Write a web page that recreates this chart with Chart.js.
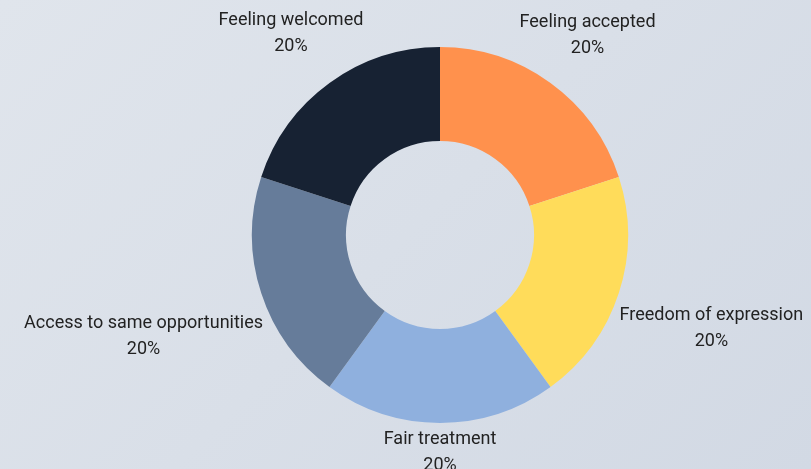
<!DOCTYPE html>
<html>
<head>
<meta charset="utf-8">
<script src="https://cdn.jsdelivr.net/npm/chart.js@4.4.1/dist/chart.umd.min.js"></script>
<style>
  html, body { margin: 0; padding: 0; }
  body { width: 811px; height: 469px; overflow: hidden;
         background: linear-gradient(135deg, #e0e5ec 0%, #d2d9e4 100%); }
  #wrap { position: relative; width: 811px; height: 469px; }
</style>
</head>
<body>
<div id="wrap"><canvas id="donut"></canvas></div>
<script>
// chart data
const labels = ['Feeling accepted', 'Freedom of expression', 'Fair treatment', 'Access to same opportunities', 'Feeling welcomed'];
const shares = [20, 20, 20, 20, 20];
const colors = ['#ff914d', '#ffdc5a', '#8fb0de', '#667c9a', '#172233'];

// draws "label / xx%" just outside each slice
const outerLabels = {
    id: 'outerLabels',
    afterDatasetsDraw(chart) {
        const ctx = chart.ctx;
        const meta = chart.getDatasetMeta(0);
        const total = shares.reduce((a, b) => a + b, 0);
        const lineH = 26;
        ctx.save();
        ctx.font = '18px Roboto, sans-serif';
        ctx.fillStyle = '#222222';
        ctx.textAlign = 'center';
        ctx.textBaseline = 'middle';
        meta.data.forEach(function(arc, i) {
            const p = arc.getProps(['x', 'y', 'startAngle', 'endAngle', 'outerRadius'], true);
            const mid = (p.startAngle + p.endAngle) / 2;
            const ux = Math.cos(mid), uy = Math.sin(mid);
            const pct = Math.round(shares[i] / total * 100) + '%';
            const w = Math.max(ctx.measureText(labels[i]).width, ctx.measureText(pct).width);
            const h = lineH * 2;
            const d = p.outerRadius + 2 + Math.abs(ux) * w / 2 + Math.abs(uy) * h / 2;
            const cx = p.x + ux * d;
            const cy = p.y + uy * d + 1 + 4.5 * Math.abs(ux);
            ctx.fillText(labels[i], cx, cy - lineH / 2);
            ctx.fillText(pct, cx, cy + lineH / 2);
        });
        ctx.restore();
    }
};

const ctx = document.getElementById('donut').getContext('2d');
new Chart(ctx, {
    type: 'doughnut',
    data: {
        labels: labels,
        datasets: [{
            data: shares,
            backgroundColor: colors,
            borderWidth: 0
        }]
    },
    options: {
        responsive: true,
        maintainAspectRatio: false,
        animation: false,
        cutout: '50%',
        layout: {
            padding: { top: 47, bottom: 46, left: 219, right: 150 }
        },
        plugins: {
            legend: { display: false },
            tooltip: { enabled: false }
        }
    },
    plugins: [outerLabels]
});
</script>
</body>
</html>
